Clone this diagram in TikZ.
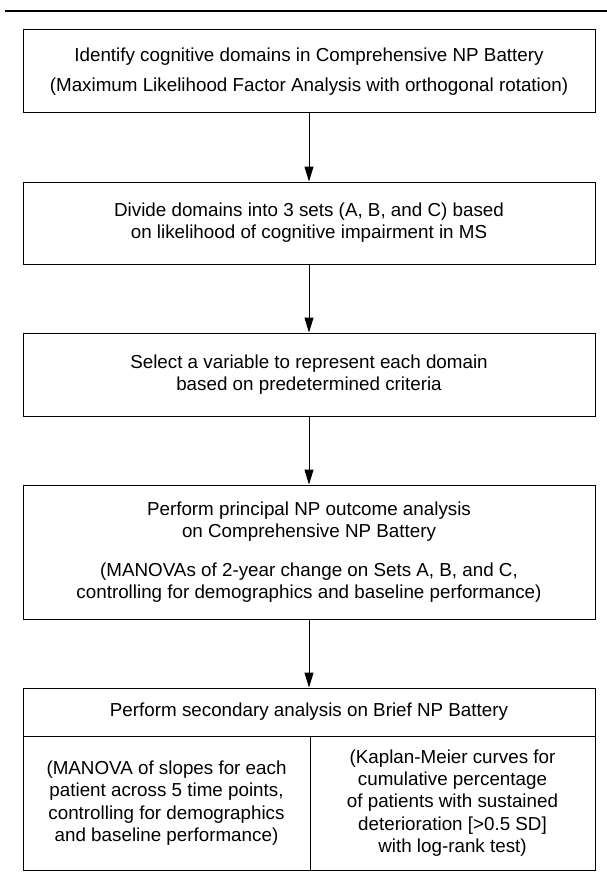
\documentclass[tikz,border=0pt]{standalone}
\usepackage{fontspec}
\setmainfont{Liberation Sans}
\usetikzlibrary{arrows.meta}
\tikzset{
	stagebox/.style={draw, line width=1pt, minimum width=572pt, inner sep=0pt, align=center, font=\fontsize{18.8}{22}\selectfont},
	cellbox/.style={draw, line width=1pt, inner sep=0pt, align=center, font=\fontsize{18.8}{22.3}\selectfont},
	flow/.style={line width=1pt, -{Triangle[length=15pt,width=9pt]}}
}
\begin{document}
\begin{tikzpicture}[x=1pt,y=-1pt]
		\useasboundingbox (0,0) rectangle (607,880);
		\draw [line width=1.2pt] (5,11) -- (607,11);
		% main stages
		\node [stagebox, minimum height=83pt] at (309, 71.5) (identify) {Identify cognitive domains in Comprehensive NP Battery\\[8pt] (Maximum Likelihood Factor Analysis with orthogonal rotation)};
		\node [stagebox, minimum height=82pt] at (309, 223) (divide) {Divide domains into 3 sets (A, B, and C) based\\ on likelihood of cognitive impairment in MS};
		\node [stagebox, minimum height=83pt] at (309, 374.5) (select) {Select a variable to represent each domain\\ based on predetermined criteria};
		\node [stagebox, minimum height=134pt] at (309, 552) (principal) {Perform principal NP outcome analysis\\ on Comprehensive NP Battery\\[17pt] (MANOVAs of 2-year change on Sets A, B, and C,\\ controlling for demographics and baseline performance)};
		\node [stagebox, minimum height=48pt] at (309, 712) (secondary) {Perform secondary analysis on Brief NP Battery};
		% secondary analysis cells
		\node [cellbox, minimum width=287pt, minimum height=134pt] at (166.5, 803) (slopes) {(MANOVA of slopes for each\\ patient across 5 time points,\\ controlling for demographics\\ and baseline performance)};
		\node [cellbox, minimum width=285pt, minimum height=134pt] at (452.5, 803) (kaplan) {(Kaplan-Meier curves for\\ cumulative percentage\\ of patients with sustained\\ deterioration [>0.5 SD]\\ with log-rank test)};
		\draw [flow] (identify) -- (divide);
		\draw [flow] (divide) -- (select);
		\draw [flow] (select) -- (principal);
		\draw [flow] (principal) -- (secondary);
	\end{tikzpicture}
\end{document}
